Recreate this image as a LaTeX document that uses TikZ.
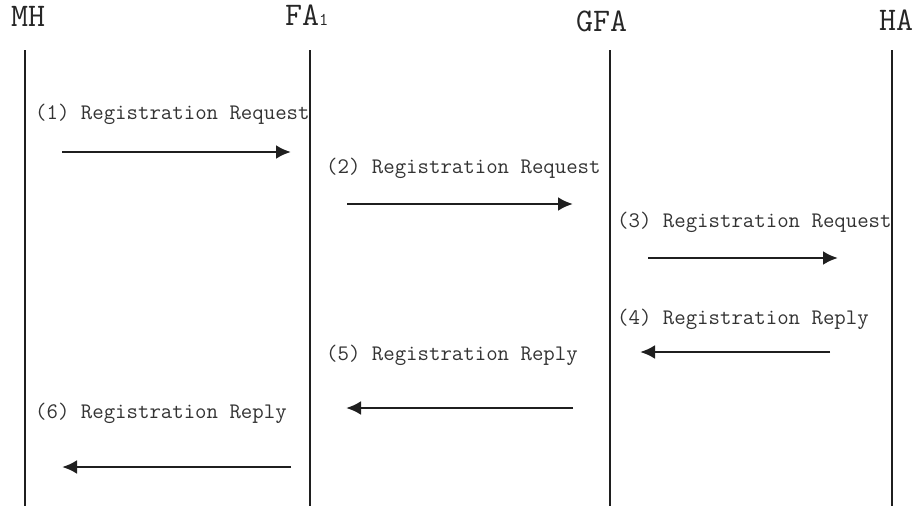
\documentclass[tikz,border=0pt]{standalone}
\usepackage{fontspec}
\usetikzlibrary{arrows.meta}
\tikzset{
  actor/.style={anchor=base west, inner sep=0pt, font=\ttfamily\fontsize{33}{33}\selectfont, text=black!85},
  msglabel/.style={anchor=base west, inner sep=0pt, font=\ttfamily\fontsize{22.2}{23}\selectfont, text=black!80},
  lifeline/.style={line width=2.4pt, draw=black!88},
  msg/.style={line width=2.8pt, draw=black!88, -{Latex[length=15pt,width=14pt]}},
}
\begin{document}
\begin{tikzpicture}[x=1pt,y=-1pt]
  \useasboundingbox (0,0) rectangle (923,506);

  % participants
  \node[actor] (mh)  at (11,26)  {MH};
  \node[actor] (fa)  at (285,25) {FA{\fontsize{18}{18}\selectfont 1}};
  \node[actor] (gfa) at (576,31) {GFA};
  \node[actor] (ha)  at (879,30) {HA};

  % lifelines
  \coordinate (mhtop)  at (25,50);   \coordinate (mhbot)  at (25,506);
  \coordinate (fatop)  at (310,50);  \coordinate (fabot)  at (310,506);
  \coordinate (gfatop) at (610,50);  \coordinate (gfabot) at (610,506);
  \coordinate (hatop)  at (892,50);  \coordinate (habot)  at (892,506);
  \draw[lifeline] (mhtop) -- (mhbot);
  \draw[lifeline] (fatop) -- (fabot);
  \draw[lifeline] (gfatop) -- (gfabot);
  \draw[lifeline] (hatop) -- (habot);

  % message labels
  \node[msglabel] (l1) at (35,119)  {(1) Registration Request};
  \node[msglabel] (l2) at (326,173) {(2) Registration Request};
  \node[msglabel] (l3) at (617,227) {(3) Registration Request};
  \node[msglabel] (l4) at (617,324) {(4) Registration Reply};
  \node[msglabel] (l5) at (326,360) {(5) Registration Reply};
  \node[msglabel] (l6) at (35,418)  {(6) Registration Reply};

  % message arrows
  \coordinate (m1s) at (62,152);  \coordinate (m1e) at (291,152);
  \coordinate (m2s) at (347,204); \coordinate (m2e) at (573,204);
  \coordinate (m3s) at (648,258); \coordinate (m3e) at (838,258);
  \coordinate (m4s) at (830,352); \coordinate (m4e) at (640,352);
  \coordinate (m5s) at (573,408); \coordinate (m5e) at (346,408);
  \coordinate (m6s) at (291,467); \coordinate (m6e) at (62,467);
  \draw[msg] (m1s) -- (m1e);
  \draw[msg] (m2s) -- (m2e);
  \draw[msg] (m3s) -- (m3e);
  \draw[msg] (m4s) -- (m4e);
  \draw[msg] (m5s) -- (m5e);
  \draw[msg] (m6s) -- (m6e);
\end{tikzpicture}
\end{document}
